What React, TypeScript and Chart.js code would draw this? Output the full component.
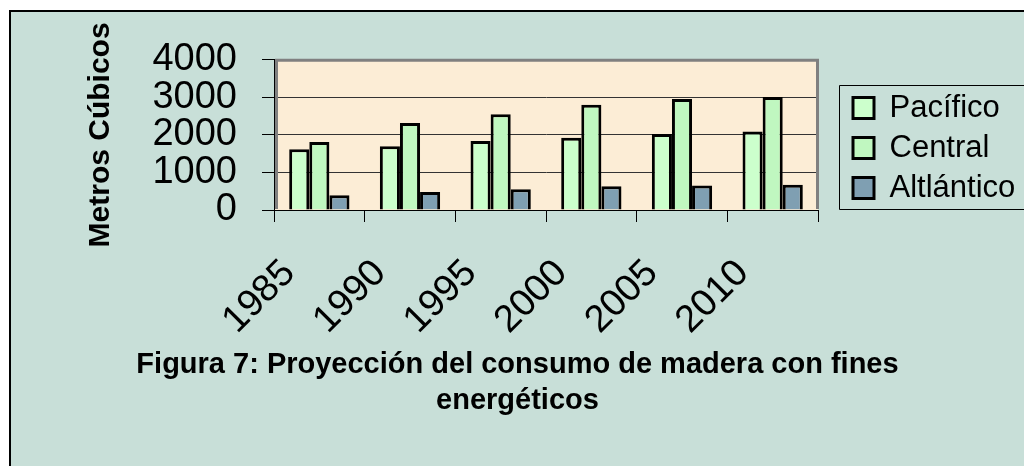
import React, { useEffect, useRef } from 'react';
import { Chart, registerables } from 'chart.js';

Chart.register(...registerables);

const categories = ['1985', '1990', '1995', '2000', '2005', '2010'];
const pacifico = [1620, 1700, 1840, 1925, 2025, 2090];
const central = [1810, 2320, 2550, 2800, 2955, 3010];
const atlantico = [390, 480, 550, 630, 655, 675];
const seriesNames = ['Pacífico', 'Central', 'Altlántico'];
const yMin = 0;
const yMax = 4000;
const yStep = 1000;
const titleLines = ['Figura 7: Proyección del consumo de madera con fines', 'energéticos'];
const yTitle = 'Metros Cúbicos';

const FONT = "'Liberation Sans', Arial, Helvetica, sans-serif";

const excelLook = {
  id: 'excelLook',
  beforeLayout(chart: any) {
    const lg = chart.legend;
    if (lg && !lg.__wrapped) {
      const orig = lg.fit.bind(lg);
      lg.fit = function () {
        orig();
        this.width = 206;
      };
      lg.__wrapped = true;
    }
  },
  afterLayout(chart: any) {
    const lg = chart.legend;
    if (lg) {
      lg.left = 833;
      lg.right = 833 + 206;
      lg.top = 71.5;
      lg.bottom = 71.5 + 220;
    }
  },
  beforeDraw(chart: any) {
    const { ctx, chartArea: a } = chart;
    ctx.save();
    ctx.fillStyle = '#fcedd6';
    ctx.fillRect(a.left, a.top, a.right - a.left, a.bottom - a.top);
    ctx.restore();
  },
  beforeDatasetsDraw(chart: any) {
    const { ctx, chartArea: a } = chart;
    ctx.save();
    ctx.strokeStyle = '#808080';
    ctx.lineWidth = 3;
    ctx.beginPath();
    ctx.moveTo(a.left + 2.5, a.bottom - 1);
    ctx.lineTo(a.left + 2.5, a.top + 0.5);
    ctx.lineTo(a.right - 0.5, a.top + 0.5);
    ctx.lineTo(a.right - 0.5, a.bottom - 1);
    ctx.stroke();
    ctx.restore();
  },
  afterDraw(chart: any) {
    const lg = chart.legend;
    if (!lg) return;
    const { ctx, width } = chart;
    ctx.save();
    ctx.strokeStyle = '#000';
    ctx.lineWidth = 1;
    const l = Math.round(lg.left - 5) + 0.5;
    const t = Math.round(lg.top + 1.5) + 0.5;
    const b = t + 124;
    ctx.beginPath();
    ctx.moveTo(width + 5, t);
    ctx.lineTo(l, t);
    ctx.lineTo(l, b);
    ctx.lineTo(width + 5, b);
    ctx.stroke();
    ctx.restore();
  },
};

export default function App() {
  const ref = useRef<HTMLCanvasElement | null>(null);

  useEffect(() => {
    if (!ref.current) return;
    Chart.defaults.font.family = FONT;
    Chart.defaults.color = '#000';
    const chart = new Chart(ref.current, {
      type: 'bar',
      data: {
        labels: categories,
        datasets: [
          { label: seriesNames[0], data: pacifico, backgroundColor: '#ccffcc', borderColor: '#000', borderWidth: 3 },
          { label: seriesNames[1], data: central, backgroundColor: '#c0f7c0', borderColor: '#000', borderWidth: 3 },
          { label: seriesNames[2], data: atlantico, backgroundColor: '#7f9fb2', borderColor: '#000', borderWidth: 3 },
        ],
      },
      options: {
        animation: false,
        responsive: true,
        maintainAspectRatio: false,
        layout: { padding: { top: 40, left: 0, right: 0, bottom: 0 } },
        datasets: {
          bar: { categoryPercentage: 0.665, barPercentage: 1.0 },
        },
        scales: {
          x: {
            offset: true,
            grid: { display: true, drawOnChartArea: false, drawTicks: true, tickLength: 12, color: '#000', offset: true },
            border: { display: true, color: '#000', width: 1 },
            ticks: {
              autoSkip: false,
              minRotation: 45,
              maxRotation: 45,
              padding: 29,
              labelOffset: -30,
              font: { size: 38, family: FONT },
              color: '#000',
            },
            afterFit: (s: any) => {
              s.height = 137;
            },
          },
          y: {
            min: yMin,
            max: yMax,
            grid: { color: '#333', lineWidth: 1, tickLength: 12, tickColor: '#000', drawTicks: true },
            border: { display: true, color: '#000', width: 1 },
            ticks: {
              stepSize: yStep,
              autoSkip: false,
              padding: 25,
              font: { size: 38, family: FONT },
              color: '#000',
              callback: (v: any) => String(v),
            },
            title: {
              display: true,
              text: yTitle,
              font: { size: 30, weight: 'bold', family: FONT, lineHeight: 1.2 },
              color: '#000',
              padding: { top: 72, bottom: 0 },
            },
            afterFit: (s: any) => {
              s.width = 263;
            },
          },
        },
        plugins: {
          legend: {
            display: true,
            position: 'right',
            align: 'start',
            labels: {
              boxWidth: 21,
              boxHeight: 21,
              padding: 9,
              font: { size: 31, family: FONT },
              color: '#000',
            },
          },
          title: {
            display: true,
            position: 'bottom',
            text: titleLines,
            color: '#000',
            font: { size: 29, weight: 'bold', family: FONT, lineHeight: 36 / 29 },
            padding: { top: 0, bottom: 47 },
          },
          tooltip: { enabled: false },
        },
      },
      plugins: [excelLook],
    } as any);
    return () => chart.destroy();
  }, []);

  return (
    <div
      style={{
        position: 'fixed',
        left: 9,
        top: 10,
        width: 1040,
        height: 480,
        background: '#c8dfd8',
        borderLeft: '2px solid #000',
        borderTop: '2px solid #000',
      }}
    >
      <div style={{ position: 'relative', width: 1013, height: 454 }}>
        <canvas ref={ref} />
      </div>
    </div>
  );
}
